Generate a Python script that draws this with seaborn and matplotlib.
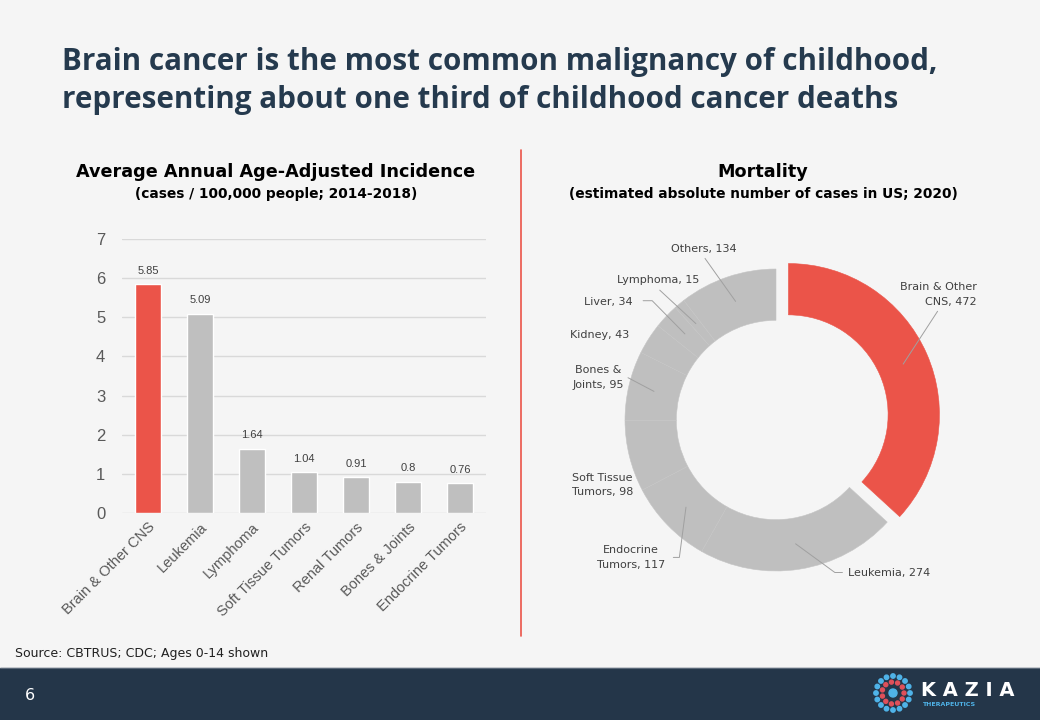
import numpy as np
import matplotlib
matplotlib.use("Agg")
import matplotlib.pyplot as plt
import seaborn as sns
from matplotlib.patches import Rectangle, Circle

# incidence data (cases / 100,000; 2014-2018)
inc_cats = ["Brain & Other CNS", "Leukemia", "Lymphoma", "Soft Tissue Tumors",
            "Renal Tumors", "Bones & Joints", "Endocrine Tumors"]
inc_vals = [5.85, 5.09, 1.64, 1.04, 0.91, 0.8, 0.76]

# mortality data (US, 2020), clockwise from 12 o'clock
mort_cats = ["Brain & Other\nCNS", "Leukemia", "Endocrine\nTumors", "Soft Tissue\nTumors",
             "Bones &\nJoints", "Kidney", "Liver", "Lymphoma", "Others"]
mort_vals = [472, 274, 117, 98, 95, 43, 34, 15, 134]

RED = "#EB5449"
GRAY = "#BFBFBF"
NAVY = "#243649"
BG = "#F5F5F5"

sns.set_style("white")
plt.rcParams["font.family"] = ["DejaVu Sans"]

fig = plt.figure(figsize=(10.4, 7.2), dpi=100)
fig.patch.set_facecolor(BG)
W, H = 1040, 720

def fx(px):
    return px / W

def fy(py):
    return 1 - py / H

# title
fig.text(fx(62), fy(47), "Brain cancer is the most common malignancy of childhood,\n"
         "representing about one third of childhood cancer deaths",
         family="Open Sans", weight="bold", fontsize=21.3, color="#253A4E",
         va="top", ha="left", linespacing=1.36)

# section headers
fig.text(fx(276), fy(172), "Average Annual Age-Adjusted Incidence", weight="bold",
         fontsize=12.7, color="black", ha="center", va="center")
fig.text(fx(276), fy(194), "(cases / 100,000 people; 2014-2018)", weight="bold",
         fontsize=9.9, color="black", ha="center", va="center")
fig.text(fx(763), fy(172), "Mortality", weight="bold",
         fontsize=12.7, color="black", ha="center", va="center")
fig.text(fx(763), fy(194), "(estimated absolute number of cases in US; 2020)", weight="bold",
         fontsize=9.9, color="black", ha="center", va="center")

# divider
fig.add_artist(plt.Line2D([fx(521), fx(521)], [fy(150), fy(636)], color=RED, lw=1.2))

# ---- bar chart ----
ax = fig.add_axes([fx(122), fy(513), fx(486 - 122), (513 - 239) / H])
ax.set_facecolor(BG)
bar_colors = [RED] + [GRAY] * (len(inc_cats) - 1)
sns.barplot(x=inc_cats, y=inc_vals, hue=inc_cats, palette=bar_colors, legend=False,
            width=0.5, saturation=1, ax=ax)
for c in ax.containers:
    ax.bar_label(c, fmt="%g", padding=6, fontsize=8, color="#404040", family="Liberation Sans")
ax.set_ylim(0, 7)
ax.set_xlim(-0.5, len(inc_cats) - 0.5)
ax.set_yticks(range(0, 8))
ax.yaxis.grid(True, color="#D9D9D9", lw=1)
ax.set_axisbelow(True)
sns.despine(ax=ax, left=True, bottom=True)
ax.tick_params(axis="y", length=0, pad=12, labelsize=12, labelcolor="#595959")
ax.tick_params(axis="x", length=0, pad=5, labelsize=10.5, labelcolor="#595959")
for lab in ax.get_yticklabels():
    lab.set_family("Liberation Sans")
for lab in ax.get_xticklabels():
    lab.set_family("Liberation Sans")
    lab.set_rotation(45)
    lab.set_ha("right")
    lab.set_rotation_mode("anchor")

# ---- donut ----
cx, cy, R = 776, 420, 151
half = 1.3
ax2 = fig.add_axes([fx(cx - half * R), fy(cy + half * R), 2 * half * R / W, 2 * half * R / H])
ax2.set_facecolor(BG)
pie_colors = [RED] + [GRAY] * (len(mort_vals) - 1)
explode = [0.09] + [0] * (len(mort_vals) - 1)
wedges, _ = ax2.pie(mort_vals, colors=pie_colors, startangle=90, counterclock=False,
                    explode=explode, wedgeprops=dict(width=0.34, edgecolor="#C5C5C5", linewidth=0.4))
wedges[0].set_edgecolor(RED)
ax2.set_xlim(-half, half)
ax2.set_ylim(-half, half)
ax2.set_aspect("equal")
ax2.axis("off")

# label placement: (text x, text y, ha, draw leader)
label_pos = {
    "Brain & Other\nCNS": (1.33, 0.83, "right", True),
    "Leukemia": (0.48, -1.01, "left", True),
    "Endocrine\nTumors": (-0.96, -0.91, "center", True),
    "Soft Tissue\nTumors": (-1.15, -0.43, "center", False),
    "Bones &\nJoints": (-1.18, 0.28, "center", True),
    "Kidney": (-1.17, 0.56, "center", False),
    "Liver": (-0.95, 0.78, "right", True),
    "Lymphoma": (-0.78, 0.93, "center", True),
    "Others": (-0.48, 1.13, "center", True),
}
leader_start = {
    "Brain & Other\nCNS": (1.07, 0.72),
    "Leukemia": (0.44, -1.01),
    "Endocrine\nTumors": (-0.68, -0.91),
    "Bones &\nJoints": (-0.98, 0.28),
    "Liver": (-0.88, 0.79),
    "Lymphoma": (-0.77, 0.86),
    "Others": (-0.47, 1.07),
}
for w, name, val in zip(wedges, mort_cats, mort_vals):
    tx, ty, ha, lead = label_pos[name]
    ax2.text(tx, ty, f"{name}, {val}", ha=ha, va="center", fontsize=8,
             color="#404040", linespacing=1.6, multialignment="center" if ha == "center" else ha)
    if lead:
        mid = np.deg2rad((w.theta1 + w.theta2) / 2)
        r = 0.83
        ox, oy = w.center
        px, py = ox + r * np.cos(mid), oy + r * np.sin(mid)
        sx, sy = leader_start[name]
        if name in ("Leukemia", "Endocrine\nTumors", "Liver"):
            kx = sx + (0.06 if name == "Liver" else (-0.05 if name == "Leukemia" else 0.04))
            ax2.plot([sx, kx, px], [sy, sy, py], color="#A0A0A0", lw=0.7)
        else:
            ax2.plot([sx, px], [sy, py], color="#A0A0A0", lw=0.7)

# source
fig.text(fx(15), fy(653), "Source: CBTRUS; CDC; Ages 0-14 shown", fontsize=9,
         color="#202020", ha="left", va="center")

# footer band
fig.add_artist(Rectangle((0, 0), 1, 52 / H, transform=fig.transFigure, color=NAVY, zorder=0))
fig.add_artist(plt.Line2D([0, 1], [52 / H, 52 / H], color="#5A6878", lw=0.8))
fig.text(fx(30), fy(695), "6", color="white", fontsize=11.5, ha="center", va="center")

# logo
lax = fig.add_axes([fx(873), fy(713), fx(40), 40 / H])
lax.set_xlim(-1, 1)
lax.set_ylim(-1, 1)
lax.set_aspect("equal")
lax.axis("off")
for rr, n, col, s in [(0.85, 16, "#4FB3E8", 0.11), (0.55, 11, "#E0505A", 0.1)]:
    for k in range(n):
        a = 2 * np.pi * k / n
        lax.add_patch(Circle((rr * np.cos(a), rr * np.sin(a)), s, color=col))
lax.add_patch(Circle((0, 0), 0.2, color="#4FB3E8"))
fig.text(fx(921), fy(691), "K A Z I A", color="white", fontsize=14, weight="bold",
         ha="left", va="center")
fig.text(fx(922), fy(704), "THERAPEUTICS", color="#4FB3E8", fontsize=4.5, weight="bold",
         ha="left", va="center")

fig.savefig("out.png", dpi=100, facecolor=BG)
